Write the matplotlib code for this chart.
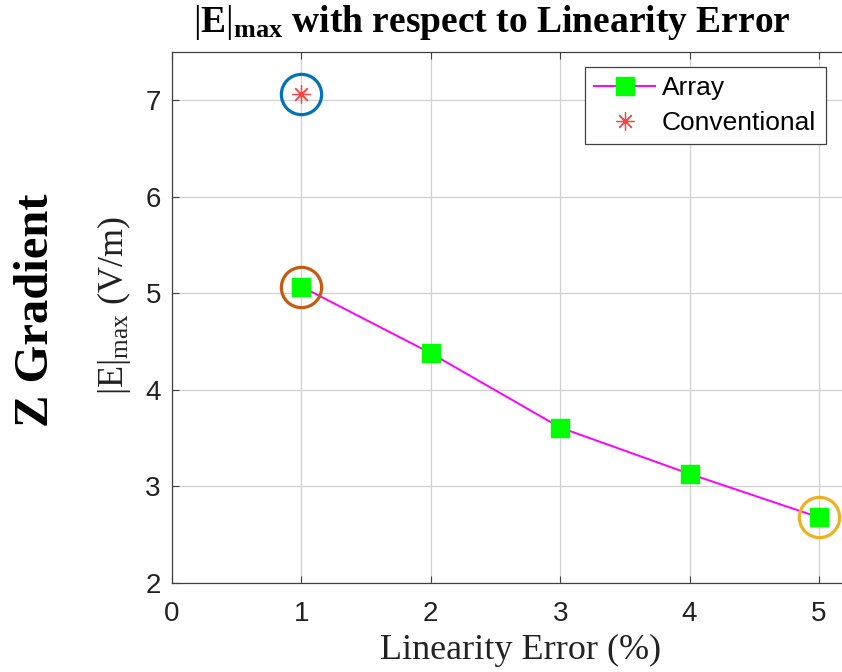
import matplotlib.pyplot as plt

plt.rcParams['mathtext.fontset'] = 'custom'
plt.rcParams['mathtext.rm'] = 'Liberation Serif'
plt.rcParams['mathtext.it'] = 'Liberation Serif:italic'
plt.rcParams['mathtext.bf'] = 'Liberation Serif:bold'

# data
lin_err = [1, 2, 3, 4, 5]
e_array = [5.07, 4.38, 3.61, 3.13, 2.68]
conv_x = [1]
conv_y = [7.07]

# highlighted points (x, y, colour)
circ_x = [1, 1, 5]
circ_y = [7.07, 5.07, 2.68]
circ_c = ['#0072BD', '#C55A11', '#EDB120']

fig = plt.figure(figsize=(8.42, 6.72), dpi=100)
# axes: left 172px, top 52px, bottom 583px; right edge runs past the image
W, H = 842, 672
x0, x5 = 172, 819
ppu = (x5 - x0) / 5.0
right_px = 870
ax = fig.add_axes([x0 / W, (H - 583) / H, (right_px - x0) / W, (583 - 52) / H])
ax.set_xlim(0, (right_px - x0) / ppu)
ax.set_ylim(2, 7.5)

ax.plot(lin_err, e_array, '-', color='#FF00FF', lw=1.4, marker='s',
        markersize=13, markerfacecolor='#00FF00', markeredgecolor='#00FF00',
        label='Array', zorder=3)
ax.plot(conv_x, conv_y, color='#FF4040', markersize=13, marker=(8, 2, 0),
        markeredgewidth=0.9, linestyle='none', label='Conventional', zorder=3)

for cx, cy, cc in zip(circ_x, circ_y, circ_c):
    ax.plot(cx, cy, 'o', markersize=29, markerfacecolor='none',
            markeredgecolor=cc, markeredgewidth=2.3, zorder=4)

ax.set_xticks([0, 1, 2, 3, 4, 5])
ax.set_yticks([2, 3, 4, 5, 6, 7])
ax.grid(True, color='#D0D0D0', lw=0.9)
ax.set_axisbelow(True)
ax.tick_params(direction='in', top=True, right=True, length=5, width=0.8,
               color='#404040', labelsize=20, labelcolor='#222222')
for lab in ax.get_xticklabels() + ax.get_yticklabels():
    lab.set_fontfamily('Liberation Sans')
ax.tick_params(axis='x', pad=13)
ax.tick_params(axis='y', pad=8)
for s in ax.spines.values():
    s.set_color('#404040')
    s.set_linewidth(0.9)

leg = ax.legend(loc='upper left', bbox_to_anchor=((585 - x0) / (right_px - x0), 1 - (67 - 52) / (583 - 52)),
                prop={'family': 'Liberation Sans', 'size': 19}, fancybox=False,
                edgecolor='#404040', framealpha=1, borderpad=0.35, handlelength=2.3,
                handletextpad=0.27, labelspacing=0.4, borderaxespad=0)
leg.get_frame().set_linewidth(0.9)

fig.text(492 / W, 1 - 22 / H, r'$|\mathbf{E}|_{\mathbf{max}}$ with respect to Linearity Error',
         ha='center', va='center', family='Liberation Serif', weight='bold', fontsize=27)
fig.text(521 / W, 1 - 650 / H, 'Linearity Error (%)', ha='center', va='center',
         family='Liberation Serif', fontsize=26, color='#222222')
fig.text(114 / W, 1 - 306 / H, r'$|\mathrm{E}|_{\mathrm{max}}$ (V/m)', ha='center', va='center',
         rotation=90, family='Liberation Serif', fontsize=26, color='#222222')
fig.text(36 / W, 1 - 310 / H, 'Z Gradient', ha='center', va='center', rotation=90,
         family='Liberation Serif', weight='bold', fontsize=35)

fig.savefig('out.png', dpi=100)
